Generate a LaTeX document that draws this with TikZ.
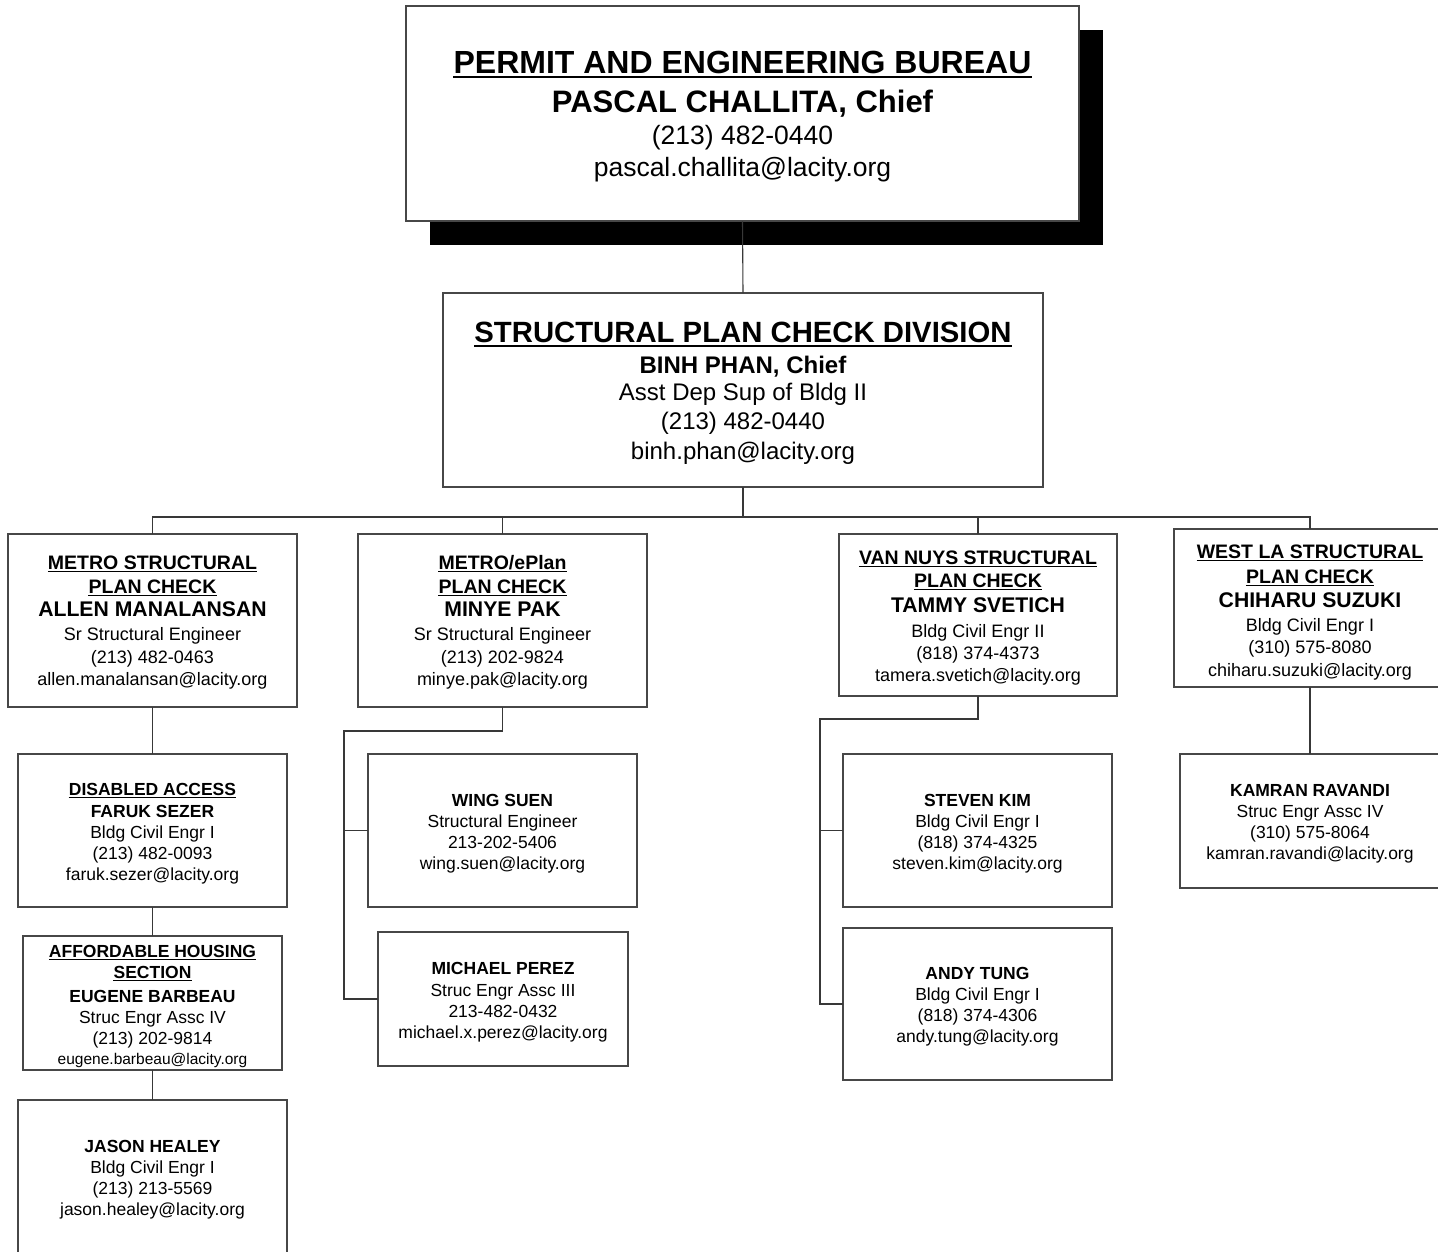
\documentclass[tikz,border=0pt]{standalone}
\usepackage{fontspec}
\setmainfont{Liberation Sans}
\tikzset{
  boxst/.style={draw=black!72, line width=1.3pt, fill=white, inner sep=0pt, outer sep=0pt, anchor=north west},
  con/.style={draw=black!78, line width=1.1pt},
  tb/.style={inner sep=0pt, text depth=0pt, text height={0.72*#1pt}, font=\bfseries\fontsize{#1}{#1}\selectfont},
  tr/.style={inner sep=0pt, text depth=0pt, text height={0.72*#1pt}, font=\fontsize{#1}{#1}\selectfont},
}
\newcommand\bx[5]{\node[boxst, minimum width=#4pt, minimum height=#5pt] (#1) at (#2,#3) {};}
\newcommand\tl[5]{\node[#4] (#1) at (#2,#3) {#5};}
\newcommand\ulit[3]{\draw[line width=#3pt] ([yshift=-#2pt]#1.south west) -- ([yshift=-#2pt]#1.south east);}
\begin{document}
\begin{tikzpicture}[x=1pt,y=-1pt]
\useasboundingbox (0,0) rectangle (1438,1251);
\fill[white] (0,0) rectangle (1438,1251);
% top box with shadow
\node[fill=black, inner sep=0pt, outer sep=0pt, anchor=north west, minimum width=673pt, minimum height=215pt] (sh) at (430,30) {};
\bx{b0}{406}{6}{673}{215}
\tl{b0a}{742.5}{62}{tb=32}{PERMIT AND ENGINEERING BUREAU}
\ulit{b0a}{3}{2.2}
\tl{b0b}{742.5}{101}{tb=31}{PASCAL CHALLITA, Chief}
\tl{b0c}{742.5}{135}{tr=26.5}{(213) 482-0440}
\tl{b0d}{742.5}{167}{tr=26.5}{pascal.challita@lacity.org}
% division
\bx{b1}{443}{293}{600}{194}
\tl{b1a}{743}{332}{tb=29.3}{STRUCTURAL PLAN CHECK DIVISION}
\ulit{b1a}{3}{2}
\tl{b1b}{743}{365}{tb=24}{BINH PHAN, Chief}
\tl{b1c}{743}{392}{tr=24}{Asst Dep Sup of Bldg II}
\tl{b1d}{743}{421}{tr=24}{(213) 482-0440}
\tl{b1e}{743}{451}{tr=24}{binh.phan@lacity.org}
\draw[con] (b0.south) -- (b1.north);
% sections
\bx{b2}{8}{534}{289}{173}
\tl{b2a}{152.5}{562}{tb=19.5}{METRO STRUCTURAL}
\ulit{b2a}{2}{1.4}
\tl{b2b}{152.5}{586}{tb=19.5}{PLAN CHECK}
\ulit{b2b}{2}{1.4}
\tl{b2c}{152.5}{609}{tb=21.2}{ALLEN MANALANSAN}
\tl{b2d}{152.5}{634}{tr=18}{Sr Structural Engineer}
\tl{b2e}{152.5}{657}{tr=18}{(213) 482-0463}
\tl{b2f}{152.5}{679}{tr=18}{allen.manalansan@lacity.org}
\bx{b3}{358}{534}{289}{173}
\tl{b3a}{502.5}{562}{tb=19.5}{METRO/ePlan}
\ulit{b3a}{2}{1.4}
\tl{b3b}{502.5}{586}{tb=19.5}{PLAN CHECK}
\ulit{b3b}{2}{1.4}
\tl{b3c}{502.5}{609}{tb=21.2}{MINYE PAK}
\tl{b3d}{502.5}{634}{tr=18}{Sr Structural Engineer}
\tl{b3e}{502.5}{657}{tr=18}{(213) 202-9824}
\tl{b3f}{502.5}{679}{tr=18}{minye.pak@lacity.org}
\bx{b4}{839}{534}{278}{162}
\tl{b4a}{978}{557}{tb=19.5}{VAN NUYS STRUCTURAL}
\ulit{b4a}{2}{1.4}
\tl{b4b}{978}{580}{tb=19.5}{PLAN CHECK}
\ulit{b4b}{2}{1.4}
\tl{b4c}{978}{605}{tb=21.2}{TAMMY SVETICH}
\tl{b4d}{978}{631}{tr=18}{Bldg Civil Engr II}
\tl{b4e}{978}{653}{tr=18}{(818) 374-4373}
\tl{b4f}{978}{675}{tr=18}{tamera.svetich@lacity.org}
\bx{b5}{1174}{529}{272}{158}
\tl{b5a}{1310}{551}{tb=19.5}{WEST LA STRUCTURAL}
\ulit{b5a}{2}{1.4}
\tl{b5b}{1310}{576}{tb=19.5}{PLAN CHECK}
\ulit{b5b}{2}{1.4}
\tl{b5c}{1310}{600}{tb=21.2}{CHIHARU SUZUKI}
\tl{b5d}{1310}{625}{tr=18}{Bldg Civil Engr I}
\tl{b5e}{1310}{647}{tr=18}{(310) 575-8080}
\tl{b5f}{1310}{670}{tr=18}{chiharu.suzuki@lacity.org}
% bus
\coordinate (bus) at (743,517);
\draw[con] (b1.south) -- (bus);
\draw[con] (b2.north) |- (bus) -| (b5.north);
\draw[con] (b3.north) -- (b3.north |- bus);
\draw[con] (b4.north) -- (b4.north |- bus);
% metro column
\bx{c1}{18}{754}{269}{153}
\tl{c1a}{152.5}{789}{tb=17.5}{DISABLED ACCESS}
\ulit{c1a}{1.8}{1.2}
\tl{c1b}{152.5}{811}{tb=17.5}{FARUK SEZER}
\tl{c1c}{152.5}{832}{tr=17.5}{Bldg Civil Engr I}
\tl{c1d}{152.5}{853}{tr=17.5}{(213) 482-0093}
\tl{c1e}{152.5}{874}{tr=17.5}{faruk.sezer@lacity.org}
\bx{c2}{23}{936}{259}{134}
\tl{c2a}{152.5}{951}{tb=17.5}{AFFORDABLE HOUSING}
\ulit{c2a}{1.8}{1.2}
\tl{c2b}{152.5}{972}{tb=17.5}{SECTION}
\ulit{c2b}{1.8}{1.2}
\tl{c2c}{152.5}{996}{tb=17.5}{EUGENE BARBEAU}
\tl{c2d}{152.5}{1017}{tr=17.5}{Struc Engr Assc IV}
\tl{c2e}{152.5}{1038}{tr=17.5}{(213) 202-9814}
\tl{c2f}{152.5}{1059}{tr=15.5}{eugene.barbeau@lacity.org}
\bx{c3}{18}{1100}{269}{160}
\tl{c3a}{152.5}{1146}{tb=17.5}{JASON HEALEY}
\tl{c3b}{152.5}{1167}{tr=17.5}{Bldg Civil Engr I}
\tl{c3c}{152.5}{1188}{tr=17.5}{(213) 213-5569}
\tl{c3d}{152.5}{1209}{tr=17.5}{jason.healey@lacity.org}
\draw[con] (b2.south) -- (c1.north);
\draw[con] (c1.south) -- (c2.north);
\draw[con] (c2.south) -- (c3.north);
% ePlan column
\bx{d1}{368}{754}{269}{153}
\tl{d1a}{502.5}{800}{tb=17.5}{WING SUEN}
\tl{d1b}{502.5}{821}{tr=17.5}{Structural Engineer}
\tl{d1c}{502.5}{842}{tr=17.5}{213-202-5406}
\tl{d1d}{502.5}{863}{tr=17.5}{wing.suen@lacity.org}
\bx{d2}{378}{932}{250}{134}
\tl{d2a}{503}{968}{tb=17.5}{MICHAEL PEREZ}
\tl{d2b}{503}{990}{tr=17.5}{Struc Engr Assc III}
\tl{d2c}{503}{1011}{tr=17.5}{213-482-0432}
\tl{d2d}{503}{1032}{tr=17.5}{michael.x.perez@lacity.org}
\coordinate (e1) at (344,731);
\draw[con] (b3.south) |- (e1) -- (e1 |- d2.west) -- (d2.west);
\draw[con] (e1 |- d1.west) -- (d1.west);
% Van Nuys column
\bx{s1}{843}{754}{269}{153}
\tl{s1a}{977.5}{800}{tb=17.5}{STEVEN KIM}
\tl{s1b}{977.5}{821}{tr=17.5}{Bldg Civil Engr I}
\tl{s1c}{977.5}{842}{tr=17.5}{(818) 374-4325}
\tl{s1d}{977.5}{863}{tr=17.5}{steven.kim@lacity.org}
\bx{s2}{843}{928}{269}{152}
\tl{s2a}{977.5}{973}{tb=17.5}{ANDY TUNG}
\tl{s2b}{977.5}{994}{tr=17.5}{Bldg Civil Engr I}
\tl{s2c}{977.5}{1015}{tr=17.5}{(818) 374-4306}
\tl{s2d}{977.5}{1036}{tr=17.5}{andy.tung@lacity.org}
\coordinate (v1) at (820,719);
\draw[con] (b4.south) |- (v1) -- (v1 |- s2.west) -- (s2.west);
\draw[con] (v1 |- s1.west) -- (s1.west);
% West LA column
\bx{k1}{1180}{754}{260}{134}
\tl{k1a}{1310}{790}{tb=17.5}{KAMRAN RAVANDI}
\tl{k1b}{1310}{811}{tr=17.5}{Struc Engr Assc IV}
\tl{k1c}{1310}{832}{tr=17.5}{(310) 575-8064}
\tl{k1d}{1310}{853}{tr=17.5}{kamran.ravandi@lacity.org}
\draw[con] (b5.south) -- (k1.north);
\end{tikzpicture}
\end{document}
